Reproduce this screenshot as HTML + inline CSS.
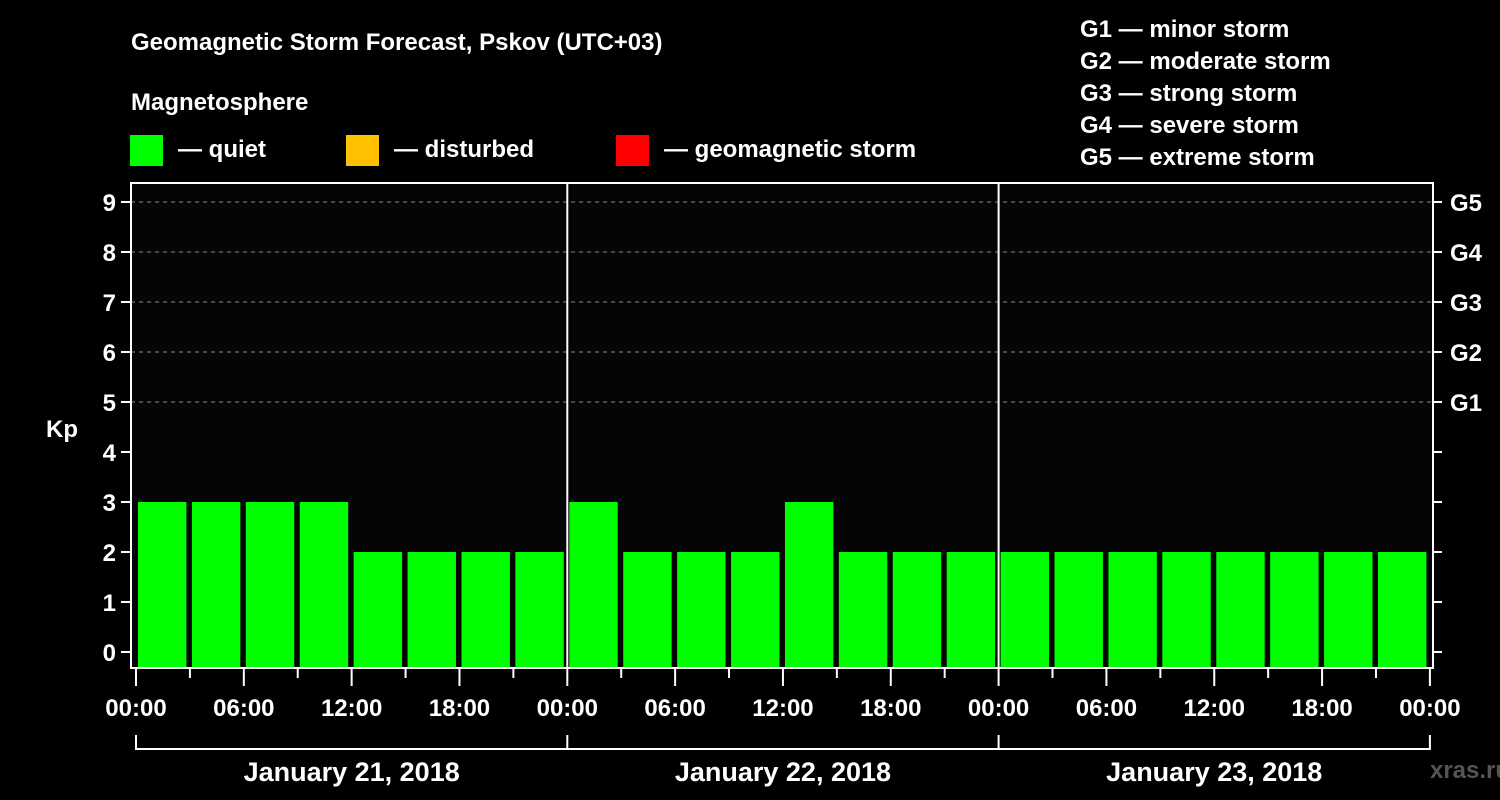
<!DOCTYPE html>
<html><head><meta charset="utf-8"><style>
html,body{margin:0;padding:0;background:#000;}
svg{display:block;font-family:"Liberation Sans",Arial,sans-serif;font-weight:bold;}
</style></head><body>
<svg id="chart" width="1500" height="800" viewBox="0 0 1500 800">
<rect x="0" y="0" width="1500" height="800" fill="#000"/>
<text x="131" y="50" fill="#fff" font-size="24">Geomagnetic Storm Forecast, Pskov (UTC+03)</text>
<text x="131" y="110" fill="#fff" font-size="24">Magnetosphere</text>
<g><rect x="130" y="135" width="33" height="31" fill="#00ff00"/><text x="178" y="157" fill="#fff" font-size="24">— quiet</text></g>
<g><rect x="346" y="135" width="33" height="31" fill="#ffc000"/><text x="394" y="157" fill="#fff" font-size="24">— disturbed</text></g>
<g><rect x="616" y="135" width="33" height="31" fill="#ff0000"/><text x="664" y="157" fill="#fff" font-size="24">— geomagnetic storm</text></g>
<g fill="#fff" font-size="24">
<text x="1080" y="37">G1 — minor storm</text>
<text x="1080" y="69">G2 — moderate storm</text>
<text x="1080" y="101">G3 — strong storm</text>
<text x="1080" y="133">G4 — severe storm</text>
<text x="1080" y="165">G5 — extreme storm</text>
</g>
<rect x="131" y="183" width="1302" height="485" fill="#050505"/>
<g id="grid"></g>
<g id="bars"></g>
<g id="axes"></g>
<text x="62" y="437" fill="#fff" font-size="24" text-anchor="middle">Kp</text>
<text x="1470" y="778" fill="#555" font-size="24" text-anchor="middle">xras.ru</text>
</svg>
<script>
const kpValues = [3,3,3,3,2,2,2,2, 3,2,2,2,3,2,2,2, 2,2,2,2,2,2,2,2];
const yTicks = [0,1,2,3,4,5,6,7,8,9];
const gLabels = ["G1","G2","G3","G4","G5"];
const gLevels = [5,6,7,8,9];
const hourLabels = ["00:00","06:00","12:00","18:00"];
const dayLabels = ["January 21, 2018","January 22, 2018","January 23, 2018"];

const NS="http://www.w3.org/2000/svg";
const x0=136, dayW=431.3, slotW=dayW/8;
const y0=652, unit=50, plotBottom=668, plotTop=183, plotLeft=131, plotRight=1433;
const xs=i=>x0+i*slotW;
const ys=v=>y0-v*unit;
function mk(tag,attrs,parent,text){const e=document.createElementNS(NS,tag);for(const k in attrs)e.setAttribute(k,attrs[k]);if(text!==undefined)e.textContent=text;parent.appendChild(e);return e;}
const grid=document.getElementById('grid'),bars=document.getElementById('bars'),axes=document.getElementById('axes');

gLevels.forEach(v=>{
  const l=mk('line',{x1:plotLeft,x2:plotRight,y1:ys(v),y2:ys(v),stroke:'#888','stroke-dasharray':'4,4','stroke-width':1},grid);
  
  
});

kpValues.forEach((v,i)=>{
  const col=v>=5?'#ff0000':(v>=4?'#ffc000':'#00ff00');
  const r=mk('rect',{x:xs(i)+2,y:ys(v),width:slotW-5.5,height:plotBottom-ys(v),fill:col},bars);
  
  
});

// frame
const fr=mk('rect',{x:plotLeft,y:plotTop,width:plotRight-plotLeft,height:plotBottom-plotTop,fill:'none',stroke:'#fff','stroke-width':2},axes);


for(let d=1;d<3;d++){
  const l=mk('line',{x1:xs(d*8),x2:xs(d*8),y1:plotTop,y2:plotBottom,stroke:'#fff','stroke-width':2},axes);
  
  
}
yTicks.forEach(v=>{
  const t=mk('line',{x1:121,x2:plotLeft,y1:ys(v),y2:ys(v),stroke:'#fff','stroke-width':2},axes);
  
  
  const t2=mk('line',{x1:plotRight,x2:plotRight+9,y1:ys(v),y2:ys(v),stroke:'#fff','stroke-width':2},axes);
  
  
  const lb=mk('text',{x:116,y:ys(v)+9,fill:'#fff','font-size':24,'text-anchor':'end'},axes,String(v));
  
  
});
gLevels.forEach((v,i)=>{
  const lb=mk('text',{x:1450,y:ys(v)+9,fill:'#fff','font-size':24},axes,gLabels[i]);
  
  
});
for(let i=0;i<=24;i++){
  const major=i%2===0;
  const t=mk('line',{x1:xs(i),x2:xs(i),y1:plotBottom,y2:major?686:678,stroke:'#fff','stroke-width':2},axes);
  
  
  if(i%2===0){
    const lb=mk('text',{x:xs(i),y:716,fill:'#fff','font-size':24,'text-anchor':'middle'},axes,hourLabels[(i/2)%4]);
    
    
  }
}
const br=mk('polyline',{points:'',fill:'none',stroke:'#fff','stroke-width':2},axes);
br.setAttribute('points',`${xs(0)},735 ${xs(0)},749 ${xs(24)},749 ${xs(24)},735`);


dayLabels.forEach((d,k)=>{
  const l=mk('line',{x1:xs(k*8),x2:xs(k*8),y1:735,y2:749,stroke:'#fff','stroke-width':2},axes);
  
  
  const lb=mk('text',{x:xs(k*8+4),y:781,fill:'#fff','font-size':27,'text-anchor':'middle'},axes,d);
  
  
});
</script>
</body></html>
